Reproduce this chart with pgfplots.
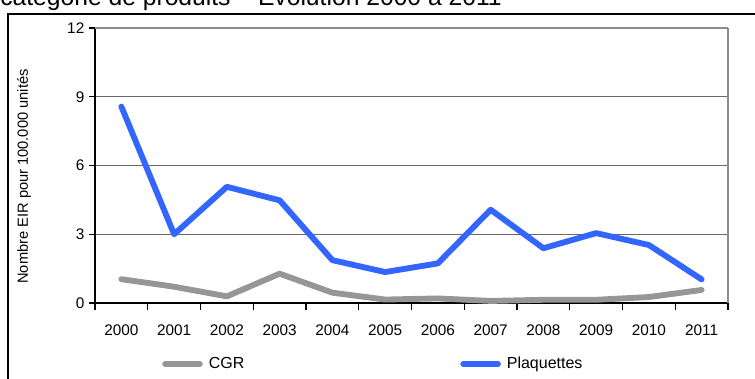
\documentclass[border=0pt]{standalone}
\usepackage{fontspec}
\setmainfont{Liberation Sans}
\usepackage{pgfplots}
\usepackage{pgfplotstable}
\pgfplotsset{compat=1.18}

\definecolor{plaqblue}{RGB}{51,102,255}
\definecolor{cgrgray}{RGB}{150,150,150}
\definecolor{gridgray}{RGB}{105,105,105}
\definecolor{framegray}{RGB}{140,140,140}

% Nombre EIR pour 100.000 unites, par annee (0 = 2000)
\pgfplotstableread{
x   cgr   plaq
0   1.04  8.57
1   0.71  3.00
2   0.29  5.07
3   1.28  4.48
4   0.45  1.87
5   0.15  1.35
6   0.20  1.73
7   0.09  4.07
8   0.14  2.39
9   0.14  3.05
10  0.26  2.53
11  0.57  1.03
}\eirdata

\begin{document}
\begin{tikzpicture}
\useasboundingbox (0,0) rectangle (566.25pt,-283.5pt);
\clip (0,0) rectangle (566.25pt,-283.5pt);

% outer frame of the figure
\draw[black, line width=0.8pt] (6pt,-10.5pt) rectangle (590pt,-300pt);

% figure title (upper part lies outside the frame)
\node[anchor=base west, inner sep=0pt, font=\fontsize{18.5}{22}\selectfont]
  at (0pt,-4.4pt) {catégorie de produits – Évolution 2000 à 2011};

\begin{axis}[
  at={(71.25pt,-227.25pt)}, anchor=south west,
  scale only axis, width=474.75pt, height=206.25pt,
  xmin=-0.5, xmax=11.5, ymin=0, ymax=12,
  axis x line*=bottom, axis y line*=left,
  axis line style={black, line width=0.8pt, -},
  xtick={0,...,11},
  xticklabels={2000,2001,2002,2003,2004,2005,2006,2007,2008,2009,2010,2011},
  minor xtick={-0.5,0.5,...,11.5},
  major x tick style={draw=none},
  minor x tick style={black, line width=0.8pt},
  minor tick length=5pt,
  ytick={0,3,6,9,12},
  major y tick style={black, line width=0.8pt},
  major tick length=4.5pt,
  tick align=outside,
  ymajorgrids,
  major grid style={gridgray, line width=1.1pt},
  tick label style={font=\fontsize{11.5}{13}\selectfont},
  /pgf/number format/assume math mode=true,
  xticklabel style={yshift=-8pt},
  ylabel={Nombre EIR pour 100.000 unités},
  ylabel style={at={(axis description cs:-0.112,0.46)}, anchor=center,
    font=\fontsize{11}{13}\selectfont},
  legend columns=2,
  legend style={at={(axis description cs:0.1058,-0.2218)}, anchor=west,
    draw=none, fill=none, inner sep=0pt,
    font=\fontsize{12}{14}\selectfont,
    nodes={inner sep=0pt},
    /tikz/every odd column/.append style={column sep=4.5pt},
    /tikz/every even column/.append style={column sep=162pt}},
  legend image code/.code={\draw[#1] (2pt,0pt) -- (28pt,0pt);},
  clip=false,
]
\addplot[cgrgray, line width=4.4pt, line join=round, line cap=round]
  table[x=x, y=cgr] {\eirdata};
\addlegendentry{CGR}
\addplot[plaqblue, line width=4.4pt, line join=round, line cap=round]
  table[x=x, y=plaq] {\eirdata};
\addlegendentry{Plaquettes}
% right and top edges of the plot area
\draw[framegray, line width=1.5pt] (rel axis cs:1,0) -- (rel axis cs:1,1);
\draw[framegray, line width=1.5pt] (rel axis cs:0,1) -- (rel axis cs:1,1);
\end{axis}
\end{tikzpicture}
\end{document}
